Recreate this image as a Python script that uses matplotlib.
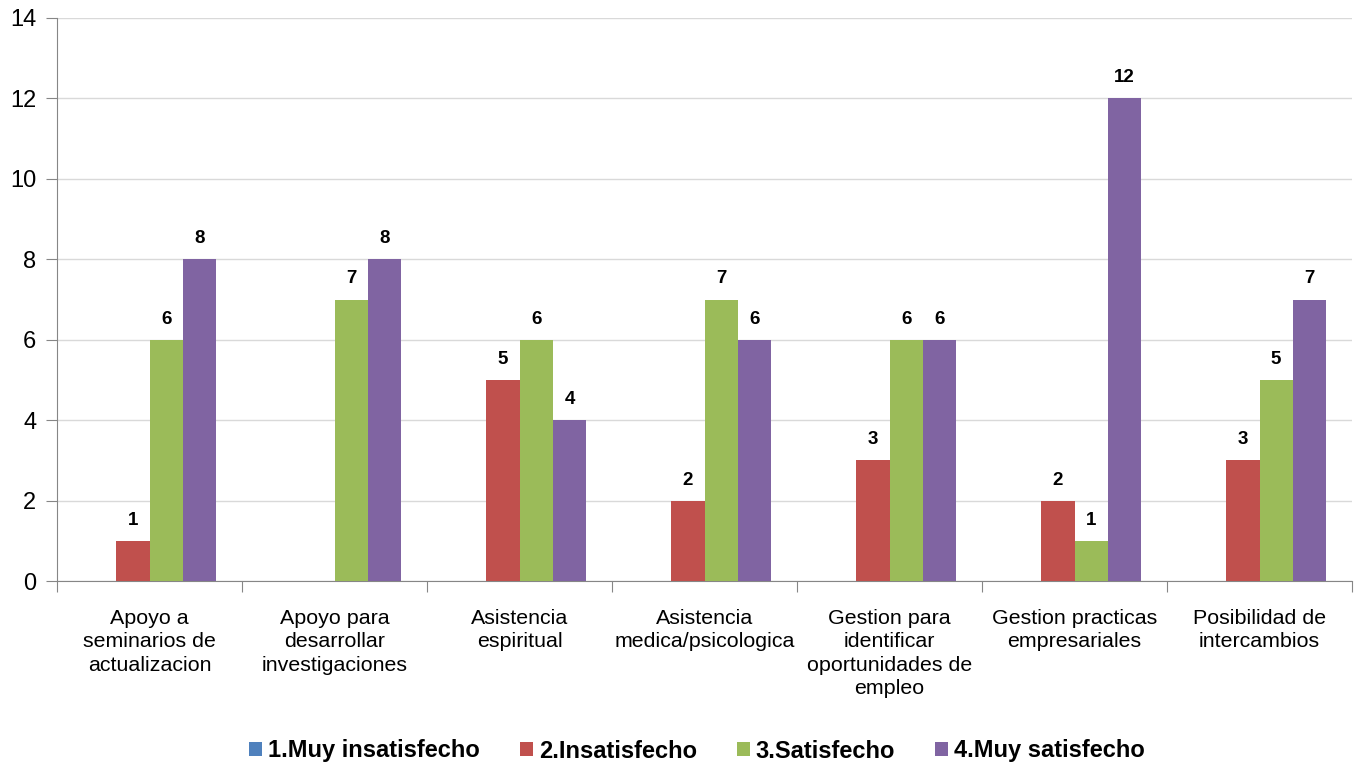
import matplotlib
matplotlib.use("Agg")
import matplotlib.pyplot as plt
import numpy as np

categories = ["Apoyo a\nseminarios de\nactualizacion", "Apoyo para\ndesarrollar\ninvestigaciones",
              "Asistencia\nespiritual", "Asistencia\nmedica/psicologica",
              "Gestion para\nidentificar\noportunidades de\nempleo", "Gestion practicas\nempresariales",
              "Posibilidad de\nintercambios"]
series_names = ["1.Muy insatisfecho", "2.Insatisfecho", "3.Satisfecho", "4.Muy satisfecho"]
muy_insatisfecho = [0, 0, 0, 0, 0, 0, 0]
insatisfecho = [1, 0, 5, 2, 3, 2, 3]
satisfecho = [6, 7, 6, 7, 6, 1, 5]
muy_satisfecho = [8, 8, 4, 6, 6, 12, 7]
colors = ["#4F81BD", "#C0504D", "#9BBB59", "#8064A2"]

plt.rcParams['font.family'] = ['Liberation Sans', 'DejaVu Sans']
fig = plt.figure(figsize=(13.63, 7.69), dpi=100)
ax = fig.add_axes([57/1363, 1-581/769, (1352-57)/1363, (581-18)/769])

data = [muy_insatisfecho, insatisfecho, satisfecho, muy_satisfecho]
x = np.arange(len(categories))
w = 0.18
for i, (vals, c, name) in enumerate(zip(data, colors, series_names)):
    pos = x + (i - 1.5) * w
    bars = ax.bar(pos, vals, width=w, color=c, label=name, zorder=3)
    for b, v in zip(bars, vals):
        if v > 0:
            ax.text(b.get_x() + b.get_width()/2, v + 0.3, str(v), ha="center", va="bottom",
                    fontsize=13.5, fontweight="bold", color="#000000")

ax.set_xlim(-0.5, len(categories) - 0.5)
ax.set_ylim(0, 14)
ax.set_yticks(range(0, 15, 2))
ax.yaxis.grid(True, color="#D9D9D9", linewidth=1, zorder=0)
ax.set_axisbelow(True)
for s in ["top", "right"]:
    ax.spines[s].set_visible(False)
for s in ["left", "bottom"]:
    ax.spines[s].set_color("#868686")
ax.tick_params(axis="y", length=8, color="#868686", labelsize=17, pad=7)
ax.set_xticks(np.arange(-0.5, len(categories), 1.0))
ax.set_xticklabels([])
ax.tick_params(axis="x", length=8, color="#868686")
ax.set_xticks(x, minor=True)
ax.set_xticklabels(categories, minor=True, fontsize=15.4, linespacing=1.3)
ax.tick_params(axis="x", which="minor", length=0, pad=20)

leg = fig.legend(loc="center", bbox_to_anchor=(697/1363, 1-751/769), ncol=4, frameon=False,
                 prop={"size": 17, "weight": "bold"}, handlelength=0.55, handleheight=0.55,
                 handletextpad=0.25, columnspacing=1.7)

fig.savefig("out.png", dpi=100)
